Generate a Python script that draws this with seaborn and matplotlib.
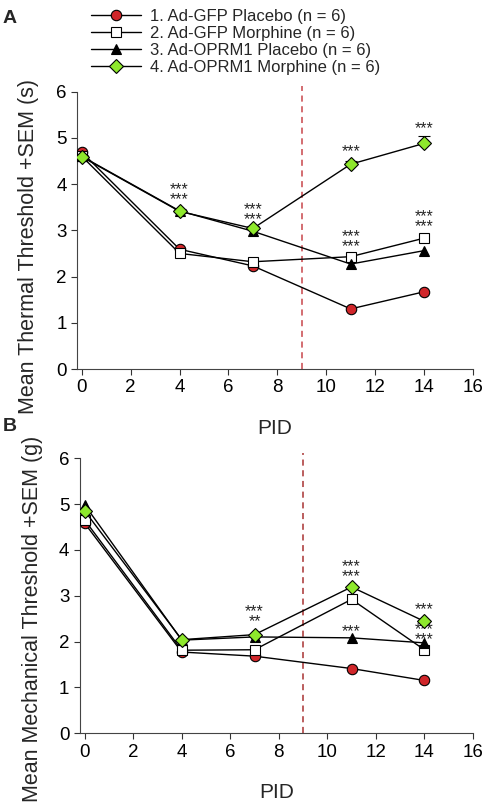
import numpy as np
import pandas as pd
import matplotlib
matplotlib.use("Agg")
import matplotlib.pyplot as plt
import seaborn as sns

# datos
pid = [0, 4, 7, 11, 14]
grupos = ["1. Ad-GFP Placebo (n = 6)", "2. Ad-GFP Morphine (n = 6)",
          "3. Ad-OPRM1 Placebo (n = 6)", "4. Ad-OPRM1 Morphine (n = 6)"]

termico_gfp_placebo = [4.69, 2.59, 2.23, 1.30, 1.67]
termico_gfp_morfina = [4.60, 2.50, 2.32, 2.43, 2.83]
termico_oprm1_placebo = [4.60, 3.42, 2.98, 2.27, 2.56]
termico_oprm1_morfina = [4.59, 3.41, 3.04, 4.43, 4.88]
termico_sem_morfina = [0.05, 0.05, 0.05, 0.08, 0.16]

mecanico_gfp_placebo = [4.58, 1.77, 1.68, 1.41, 1.15]
mecanico_gfp_morfina = [4.65, 1.81, 1.82, 2.92, 1.82]
mecanico_oprm1_placebo = [4.98, 2.03, 2.10, 2.08, 1.97]
mecanico_oprm1_morfina = [4.85, 2.04, 2.15, 3.19, 2.44]

# asteriscos: (PID, y, texto)
estrellas_termico = [(4, 3.78, "***\n***"), (7, 3.34, "***\n***"),
                     (11, 4.70, "***"), (11, 2.76, "***\n***"),
                     (14, 5.19, "***"), (14, 3.19, "***\n***")]
estrellas_mecanico = [(7, 2.54, "***\n**"), (11, 3.53, "***\n***"),
                      (11, 2.22, "***"), (14, 2.70, "***"), (14, 2.15, "***\n***")]

estilos = [dict(marker="o", color="#d0262a", ms=7.5),
           dict(marker="s", color="white", ms=7.5),
           dict(marker="^", color="black", ms=7.5),
           dict(marker="D", color="#8ee82c", ms=7)]

sns.set_style("ticks")
plt.rcParams["font.family"] = ["Liberation Sans", "DejaVu Sans"]

fig = plt.figure(figsize=(4.84, 8.11), dpi=100)
ax_a = fig.add_axes([0.159, 0.545, 0.818, 0.342])
ax_b = fig.add_axes([0.165, 0.096, 0.812, 0.339])


def panel(ax, series, estrellas, ylabel, color_linea, y_etiqueta, sem=None):
    for i, (nombre, valores) in enumerate(zip(grupos, series)):
        e = estilos[i]
        df = pd.DataFrame({"PID": pid, "valor": valores})
        sns.lineplot(data=df, x="PID", y="valor", ax=ax, color="black", lw=1,
                     marker=e["marker"], markersize=e["ms"], markerfacecolor=e["color"],
                     markeredgecolor="black", markeredgewidth=0.8, label=nombre,
                     zorder=3 + i)
    if sem is not None:
        ax.errorbar(pid, series[3], yerr=[np.zeros(len(sem)), sem], fmt="none",
                    ecolor="black", elinewidth=0.8, capsize=4, capthick=0.8, zorder=2)
    for x, y, t in estrellas:
        ax.text(x, y, t, ha="center", va="center", fontsize=11.5, linespacing=0.6)
    ax.axvline(9, color=color_linea, ls=(0, (4, 3)), lw=1.1, ymin=0, ymax=1.02, clip_on=False)
    ax.set_xlim(-0.2, 16)
    ax.set_ylim(0, 6)
    ax.set_xticks(range(0, 17, 2))
    ax.set_yticks(range(0, 7))
    ax.tick_params(labelsize=13.5, direction="out", length=4, width=0.8, colors="#333333",
                   labelcolor="black")
    ax.set_xlabel("PID", fontsize=15, labelpad=16)
    ax.set_ylabel(ylabel, fontsize=15.5)
    ax.yaxis.set_label_coords(-0.095, y_etiqueta)
    for s in ["left", "bottom"]:
        ax.spines[s].set_color("#444444")
        ax.spines[s].set_linewidth(0.8)
    sns.despine(ax=ax)
    ax.get_legend().remove()


panel(ax_a, [termico_gfp_placebo, termico_gfp_morfina, termico_oprm1_placebo, termico_oprm1_morfina],
      estrellas_termico, "Mean Thermal Threshold +SEM (s)", "#c8454a", 0.44, termico_sem_morfina)
panel(ax_b, [mecanico_gfp_placebo, mecanico_gfp_morfina, mecanico_oprm1_placebo, mecanico_oprm1_morfina],
      estrellas_mecanico, "Mean Mechanical Threshold +SEM (g)", "#a83232", 0.415)

handles, labels = ax_a.get_legend_handles_labels()
fig.legend(handles[:4], labels[:4], loc="upper left", bbox_to_anchor=(0.17, 1.0),
           frameon=False, fontsize=12, handlelength=3.0, labelspacing=0.12,
           handletextpad=0.5, borderaxespad=0.15)

fig.text(0.006, 0.988, "A", fontsize=14, fontweight="bold", va="top")
fig.text(0.006, 0.484, "B", fontsize=14, fontweight="bold", va="top")

fig.savefig("out.png", dpi=100)
